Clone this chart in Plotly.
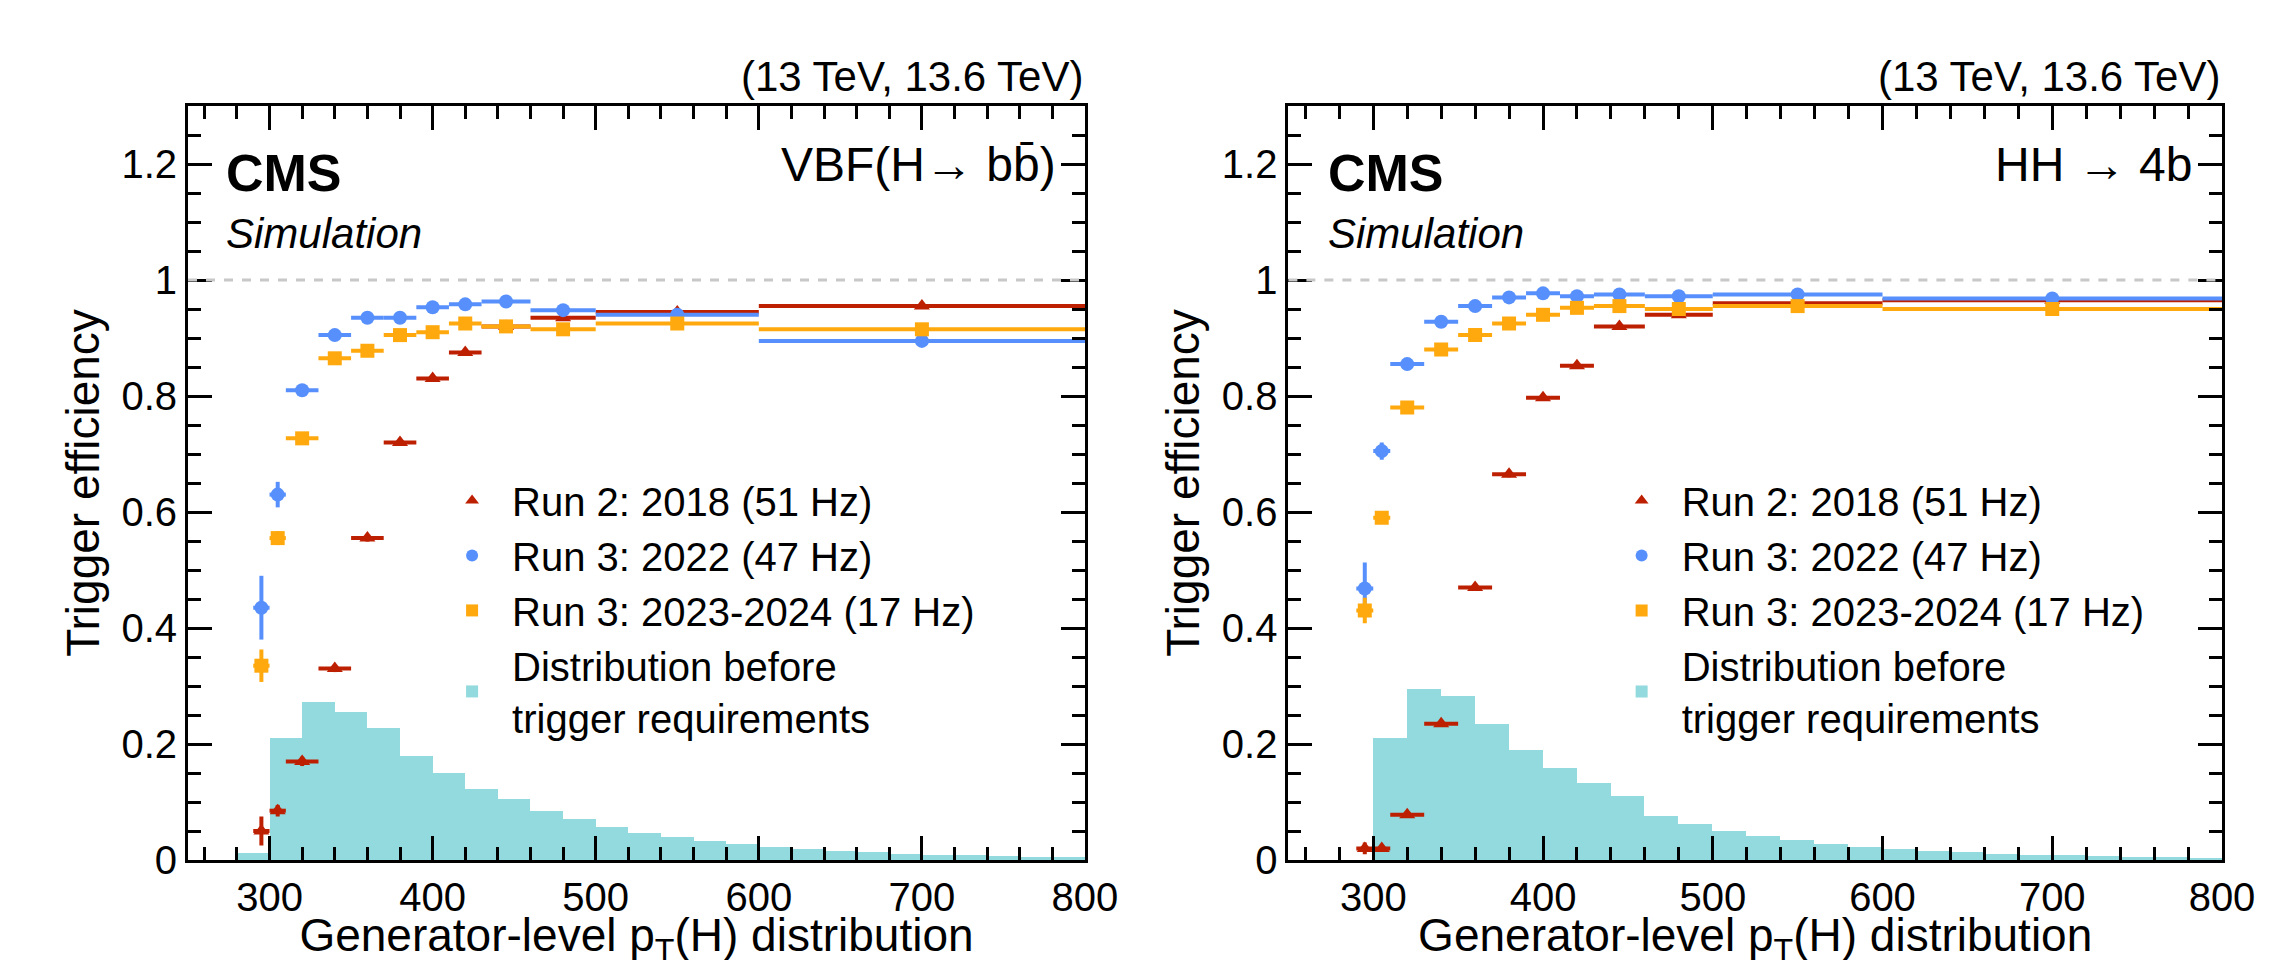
import plotly.graph_objects as go
from plotly.subplots import make_subplots

# efficiency bins (GeV)
bin_centers = [295, 305, 320, 340, 360, 380, 400, 420, 445, 480, 550, 700]
bin_half = [5, 5, 10, 10, 10, 10, 10, 10, 15, 20, 50, 100]

# VBF(H->bb)
vbf_run2 = [0.05, 0.085, 0.17, 0.33, 0.555, 0.72, 0.83, 0.875, 0.92, 0.935, 0.945, 0.955]
vbf_run2_err = [0.025, 0.01, 0.008, 0.006, 0.006, 0.006, 0.005, 0.005, 0.004, 0.004, 0.004, 0.004]
vbf_2022 = [0.435, 0.63, 0.81, 0.905, 0.935, 0.935, 0.953, 0.958, 0.963, 0.948, 0.94, 0.895]
vbf_2022_err = [0.055, 0.022, 0.008, 0.005, 0.004, 0.004, 0.004, 0.004, 0.003, 0.003, 0.003, 0.004]
vbf_2023 = [0.335, 0.555, 0.727, 0.865, 0.878, 0.905, 0.91, 0.925, 0.92, 0.915, 0.925, 0.915]
vbf_2023_err = [0.028, 0.012, 0.006, 0.005, 0.004, 0.004, 0.004, 0.004, 0.003, 0.003, 0.003, 0.004]

# HH->4b
hh_run2 = [0.02, 0.02, 0.078, 0.235, 0.47, 0.665, 0.797, 0.852, 0.92, 0.94, 0.96, 0.965]
hh_run2_err = [0.01, 0.006, 0.005, 0.005, 0.005, 0.005, 0.004, 0.004, 0.003, 0.003, 0.003, 0.003]
hh_2022 = [0.468, 0.705, 0.855, 0.928, 0.955, 0.97, 0.977, 0.972, 0.975, 0.972, 0.975, 0.968]
hh_2022_err = [0.045, 0.015, 0.007, 0.004, 0.003, 0.003, 0.003, 0.003, 0.002, 0.002, 0.002, 0.003]
hh_2023 = [0.43, 0.59, 0.78, 0.88, 0.905, 0.925, 0.94, 0.952, 0.955, 0.95, 0.955, 0.95]
hh_2023_err = [0.022, 0.008, 0.005, 0.004, 0.003, 0.003, 0.003, 0.003, 0.002, 0.002, 0.002, 0.003]

# distribution before trigger requirements (20 GeV bins from 280 to 800)
hist_centers = list(range(290, 800, 20))
vbf_hist = [0.012, 0.21, 0.272, 0.255, 0.228, 0.18, 0.15, 0.122, 0.105, 0.085, 0.07, 0.057,
            0.047, 0.04, 0.033, 0.028, 0.023, 0.019, 0.016, 0.013, 0.011, 0.009, 0.008, 0.007, 0.006, 0.005]
hh_hist = [0.0, 0.21, 0.295, 0.282, 0.235, 0.19, 0.158, 0.133, 0.11, 0.076, 0.062, 0.05,
           0.042, 0.034, 0.028, 0.023, 0.019, 0.016, 0.013, 0.011, 0.009, 0.008, 0.007, 0.006, 0.005, 0.004]

RED, BLUE, ORANGE, TEAL = "#bd1f01", "#5790fc", "#ffa90e", "#92dadd"
FONT = "Liberation Sans"

fig = make_subplots(rows=1, cols=2)

panels = [
    (1, vbf_hist, [(vbf_run2, vbf_run2_err), (vbf_2022, vbf_2022_err), (vbf_2023, vbf_2023_err)], "legend"),
    (2, hh_hist, [(hh_run2, hh_run2_err), (hh_2022, hh_2022_err), (hh_2023, hh_2023_err)], "legend2"),
]
names = ["Run 2: 2018 (51 Hz)", "Run 3: 2022 (47 Hz)", "Run 3: 2023-2024 (17 Hz)"]
colors = [RED, BLUE, ORANGE]
symbols = ["triangle-up", "circle", "square"]

for col, hist, series, leg in panels:
    fig.add_trace(go.Bar(x=hist_centers, y=hist, width=20, marker=dict(color=TEAL, line_width=0),
                         name="Distribution before<br>trigger requirements", legend=leg,
                         legendrank=4), row=1, col=col)
    for i, (vals, errs) in enumerate(series):
        fig.add_trace(go.Scatter(
            x=bin_centers, y=vals, mode="markers", name=names[i], legend=leg, legendrank=i + 1,
            marker=dict(color=colors[i], symbol=symbols[i], size=14),
            error_x=dict(type="data", array=bin_half, color=colors[i], thickness=4, width=0),
            error_y=dict(type="data", array=errs, color=colors[i], thickness=4, width=0),
        ), row=1, col=col)
    fig.add_hline(y=1, line=dict(color="#c8c8c8", width=3, dash="dash"), row=1, col=col)

axis_common = dict(showline=True, linecolor="black", linewidth=3, mirror="ticks", ticks="inside",
                   ticklen=24, tickwidth=3, tickcolor="black", showgrid=False, zeroline=False,
                   tickfont=dict(size=40, family=FONT, color="black"),
                   minor=dict(ticks="inside", ticklen=13, tickwidth=3, tickcolor="black"))
fig.update_xaxes(range=[250, 800], dtick=100, minor_dtick=20,
                 title=dict(text="Generator-level p<sub>T</sub>(H) distribution",
                            font=dict(size=46, family=FONT, color="black"), standoff=0),
                 **axis_common)
fig.update_yaxes(range=[0, 1.3], tickvals=[0, 0.2, 0.4, 0.6, 0.8, 1.0, 1.2],
                 ticktext=["0", "0.2", "0.4", "0.6", "0.8", "1", "1.2"], minor_dtick=0.05,
                 title=dict(text="Trigger efficiency", font=dict(size=46, family=FONT, color="black"),
                            standoff=8),
                 **axis_common)

leg_style = dict(font=dict(size=40, family=FONT, color="black"), bgcolor="rgba(0,0,0,0)",
                 traceorder="normal", itemsizing="constant", itemwidth=70, tracegroupgap=0,
                 yanchor="top", xanchor="left")
fig.update_layout(
    legend=dict(x=0.12, y=0.52, **leg_style),
    legend2=dict(x=0.695, y=0.52, **leg_style),
)

ann = []
for xref, yref, label in [("x domain", "y domain", "VBF(H\u2192 bb\u0304)"),
                          ("x2 domain", "y2 domain", "HH \u2192 4b")]:
    ann += [
        dict(xref=xref, yref=yref, x=0.04, y=0.87, text="<b>CMS</b>", showarrow=False,
             xanchor="left", yanchor="bottom", font=dict(size=52, family=FONT, color="black")),
        dict(xref=xref, yref=yref, x=0.04, y=0.865, text="<i>Simulation</i>", showarrow=False,
             xanchor="left", yanchor="top", font=dict(size=42, family=FONT, color="black")),
        dict(xref=xref, yref=yref, x=0.97, y=0.96, text=label, showarrow=False,
             xanchor="right", yanchor="top", font=dict(size=48, family=FONT, color="black")),
        dict(xref=xref, yref=yref, x=1.0, y=1.005, text="(13 TeV, 13.6 TeV)", showarrow=False,
             xanchor="right", yanchor="bottom", font=dict(size=42, family=FONT, color="black")),
    ]
fig.update_layout(
    annotations=ann, barmode="overlay", bargap=0,
    width=2284, height=960, plot_bgcolor="white", paper_bgcolor="white",
    margin=dict(l=180, r=70, t=98, b=108),
)
fig.update_xaxes(domain=[0.0, 0.441], row=1, col=1)
fig.update_xaxes(domain=[0.541, 1.0], row=1, col=2)

fig.write_html("out.html")
